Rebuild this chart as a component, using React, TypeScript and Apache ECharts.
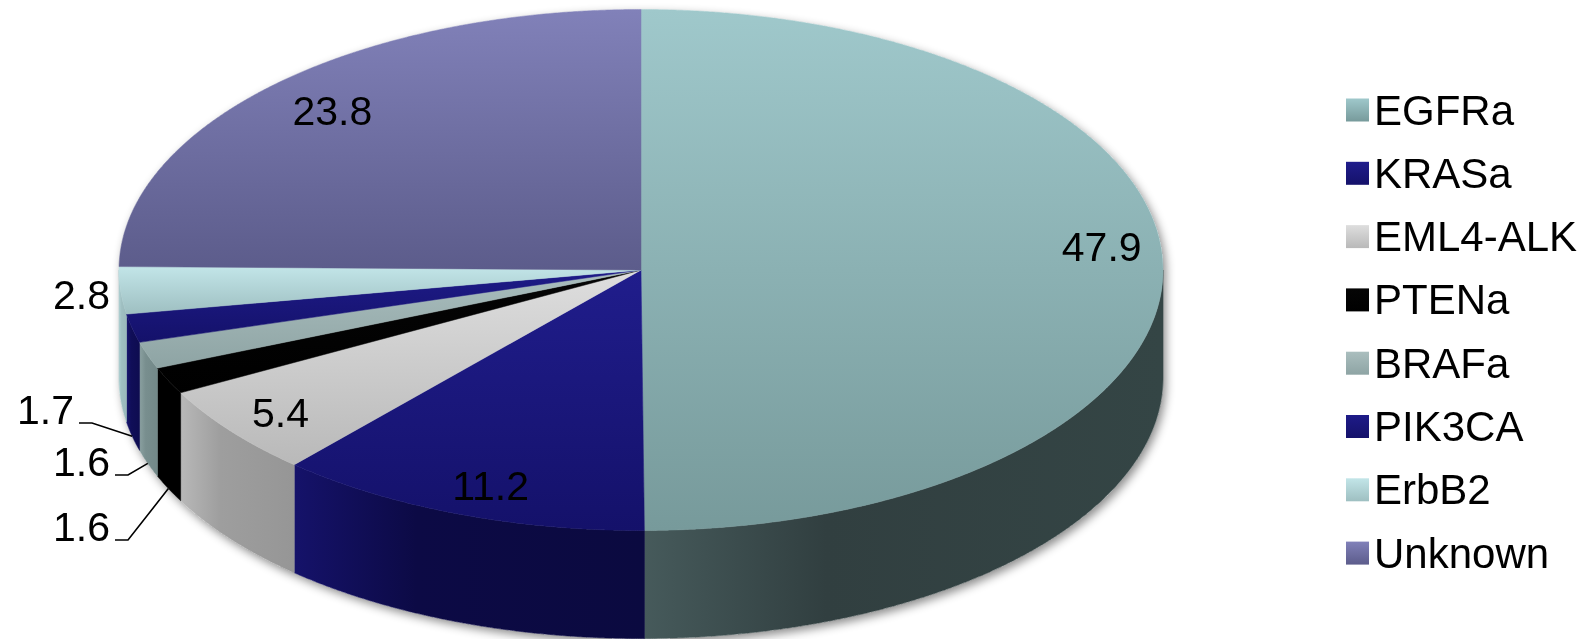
import React, { useEffect, useRef } from 'react';
import * as echarts from 'echarts';

// ---- data ----
const categories = ['EGFRa', 'KRASa', 'EML4-ALK', 'PTENa', 'BRAFa', 'PIK3CA', 'ErbB2', 'Unknown'];
const values = [47.9, 11.2, 5.4, 1.6, 1.6, 1.7, 2.8, 23.8];

// ---- styles ----
const topColors: Record<string, string[]> = {
  EGFRa: ['#9fc8cb', '#779a9b'],
  KRASa: ['#201d8c', '#14116a'],
  'EML4-ALK': ['#dedede', '#b9b9b9'],
  PTENa: ['#050505', '#000000'],
  BRAFa: ['#aabebe', '#8ea4a4'],
  PIK3CA: ['#1e1b88', '#14116a'],
  ErbB2: ['#c2e5e8', '#9ebfc1'],
  Unknown: ['#8181b9', '#5c5c8b'],
};
const sideColors: Record<string, string[]> = {
  EGFRa: ['#465a5b', '#313f40', '#344545'],
  KRASa: ['#15126a', '#0c0a45', '#0b0a40'],
  'EML4-ALK': ['#b8b8b8', '#9e9e9e', '#969696'],
  PTENa: ['#000000', '#000000', '#000000'],
  BRAFa: ['#8aa0a0', '#788e8e', '#738989'],
  PIK3CA: ['#17146e', '#100e58', '#0e0c50'],
  ErbB2: ['#aecfd1', '#9fbfc1', '#9ab9bb'],
  Unknown: ['#5c5c8b', '#4c4c78', '#4c4c78'],
};

// ---- layout ----
const CX = 641;
const CY = 270;
const RX = 522;
const RY = 260.5;
const DEPTH = 108;
const FONT = '"Liberation Sans", Arial, Helvetica, sans-serif';
const LABEL_SIZE = 41;
const insideNudge: Record<string, number[]> = {
  EGFRa: [17, -22],
  KRASa: [6, 9],
  'EML4-ALK': [-12, 6],
  Unknown: [3, -1],
};
const outsideLabels: Record<string, { x: number; y: number; leader: boolean }> = {
  ErbB2: { x: 110, y: 295, leader: false },
  PIK3CA: { x: 74, y: 410, leader: true },
  BRAFa: { x: 110, y: 462, leader: true },
  PTENa: { x: 110, y: 527, leader: true },
};

const pt = (a: number, dy = 0) => [CX + RX * Math.sin(a), CY - RY * Math.cos(a) + dy];
const arc = (a: number, b: number, dy = 0) => {
  const n = Math.max(2, Math.ceil(Math.abs(b - a) / (Math.PI / 720)));
  const out: number[][] = [];
  for (let k = 0; k <= n; k++) out.push(pt(a + ((b - a) * k) / n, dy));
  return out;
};

const vGrad = (c: string[]) =>
  new echarts.graphic.LinearGradient(0, 0, 0, 1, [
    { offset: 0, color: c[0] },
    { offset: 1, color: c[1] },
  ]);
const hGrad = (c: string[]) =>
  new echarts.graphic.LinearGradient(0, 0, 1, 0, [
    { offset: 0, color: c[0] },
    { offset: 0.35, color: c[1] },
    { offset: 1, color: c[2] },
  ]);

const total = values.reduce((s, v) => s + v, 0);

function renderItem(params: any, api: any) {
  const i = params.dataIndex;
  const name = categories[i];
  const v = api.value(0);
  let start = 0;
  for (let k = 0; k < i; k++) start += values[k];
  const a0 = (start / total) * Math.PI * 2;
  const a1 = ((start + v) / total) * Math.PI * 2;
  const children: any[] = [];

  if (i === 0) {
    const sil = arc(-Math.PI / 2, Math.PI / 2, 0).concat(arc(Math.PI / 2, (3 * Math.PI) / 2, DEPTH));
    children.push({
      type: 'polygon',
      z2: -1,
      shape: { points: sil },
      style: {
        fill: '#ffffff',
        shadowBlur: 10,
        shadowColor: 'rgba(0,0,0,0.45)',
        shadowOffsetX: 3,
        shadowOffsetY: 4,
      },
    });
  }

  const lo = Math.max(a0, Math.PI / 2);
  const hi = Math.min(a1, (3 * Math.PI) / 2);
  if (hi > lo) {
    const side = arc(lo, hi, 0).concat(arc(hi, lo, DEPTH));
    const g = hGrad(sideColors[name]);
    children.push({
      type: 'polygon',
      z2: 1,
      shape: { points: side },
      style: { fill: g, stroke: g, lineWidth: 0.6 },
    });
  }

  const top = [[CX, CY]].concat(arc(a0, a1, 0));
  const tg = vGrad(topColors[name]);
  children.push({
    type: 'polygon',
    z2: 10,
    shape: { points: top },
    style: { fill: tg, stroke: tg, lineWidth: 0.5 },
  });

  const mid = (a0 + a1) / 2;
  const text = v.toFixed(1);
  const out = outsideLabels[name];
  if (out) {
    children.push({
      type: 'text',
      z2: 30,
      style: {
        text,
        x: out.x,
        y: out.y,
        fill: '#000',
        fontSize: LABEL_SIZE,
        fontFamily: FONT,
        align: 'right',
        verticalAlign: 'middle',
      },
    });
    if (out.leader) {
      const t = pt(mid, DEPTH);
      children.push({
        type: 'polyline',
        z2: 30,
        shape: { points: [[out.x + 5, out.y + 13], [out.x + 18, out.y + 13], t] },
        style: { stroke: '#000', lineWidth: 1.6, fill: null },
      });
    }
  } else {
    const p = [CX + 0.85 * RX * Math.sin(mid), CY - 0.85 * RY * Math.cos(mid)];
    const n = insideNudge[name] || [0, 0];
    children.push({
      type: 'text',
      z2: 30,
      style: {
        text,
        x: p[0] + n[0],
        y: p[1] + n[1],
        fill: '#000',
        fontSize: LABEL_SIZE,
        fontFamily: FONT,
        align: 'center',
        verticalAlign: 'middle',
      },
    });
  }

  return { type: 'group', children };
}

export default function App() {
  const ref = useRef<HTMLDivElement>(null);
  useEffect(() => {
    const chart = echarts.init(ref.current!, null, { renderer: 'svg' });
    chart.setOption({
      animation: false,
      legend: {
        orient: 'vertical',
        left: 1341,
        top: 84,
        itemWidth: 23,
        itemHeight: 23,
        itemGap: 21.3,
        icon: 'rect',
        selectedMode: false,
        data: categories,
        textStyle: {
          fontSize: 42,
          lineHeight: 42,
          fontFamily: FONT,
          color: '#000',
        },
      },
      series: [
        {
          type: 'custom',
          name: 'pie3d',
          coordinateSystem: 'none',
          renderItem,
          silent: true,
          data: values.map((v, i) => ({ name: categories[i], value: v })),
        },
        {
          type: 'pie',
          name: 'legendPie',
          center: [-400, -400],
          radius: [0, 1],
          silent: true,
          label: { show: false },
          labelLine: { show: false },
          data: values.map((v, i) => ({
            name: categories[i],
            value: v,
            itemStyle: { color: vGrad(topColors[categories[i]]) },
          })),
        },
      ],
    });
    return () => chart.dispose();
  }, []);
  return <div ref={ref} style={{ position: 'fixed', left: 0, top: 0, width: 1586, height: 639 }} />;
}
